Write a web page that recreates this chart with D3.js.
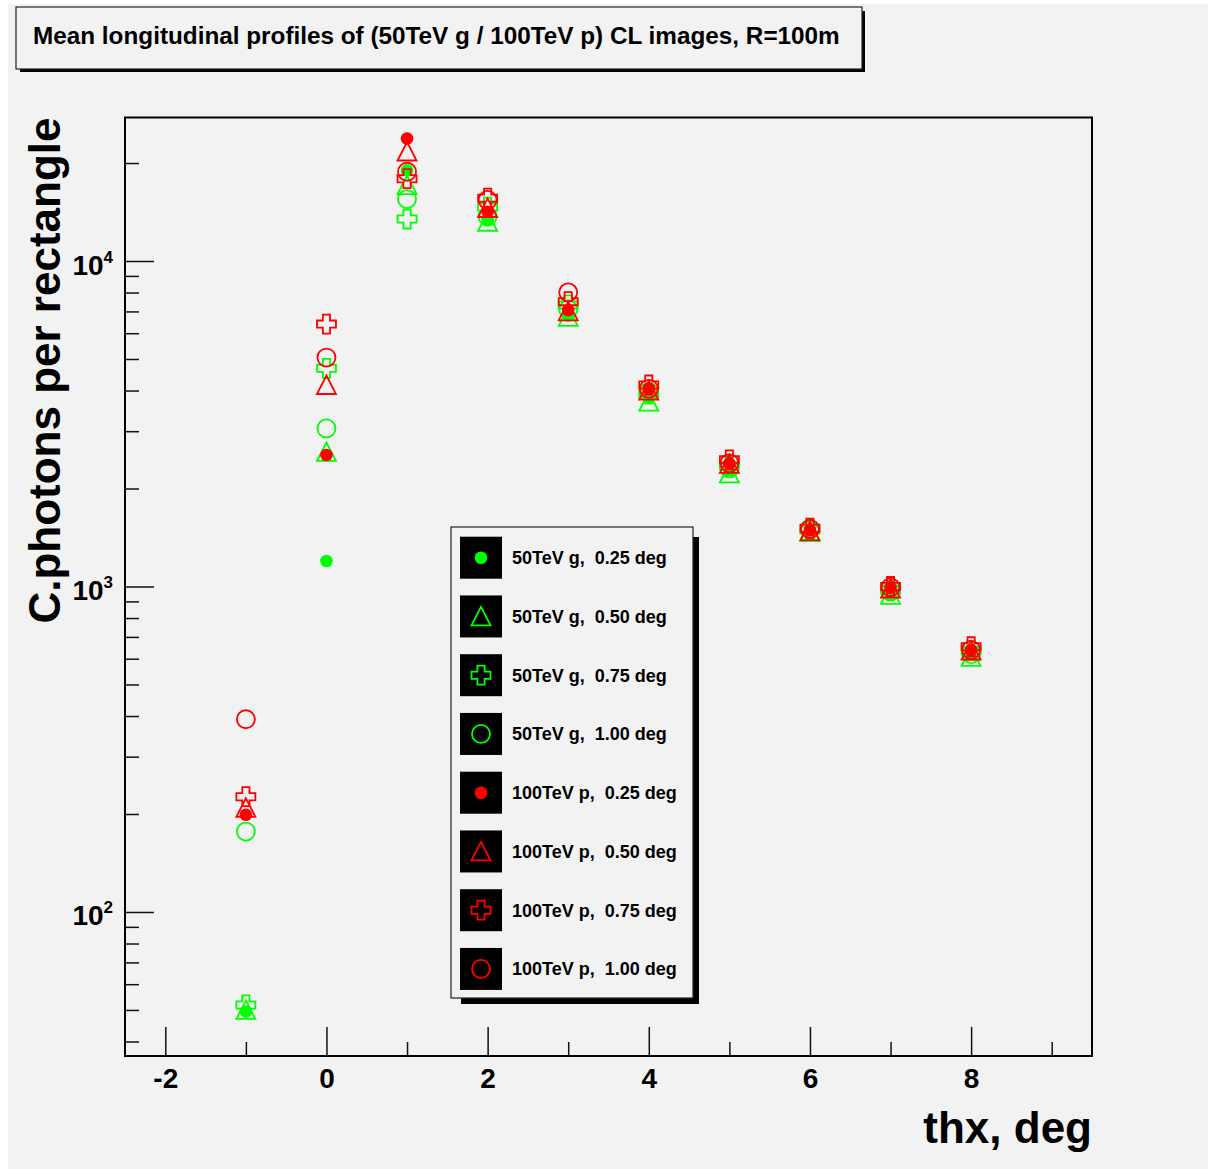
<!DOCTYPE html>
<html>
<head>
<meta charset="utf-8">
<script src="https://cdn.jsdelivr.net/npm/d3@7"></script>
<style>
  body { margin: 0; background: #fff; }
  text { font-family: "Liberation Sans", Arial, Helvetica, sans-serif; font-weight: bold; fill: #000; }
</style>
</head>
<body>
<div id="chart"></div>
<script>
// thx positions of the profile bins (deg)
var thx = [-1, 0, 1, 2, 3, 4, 5, 6, 7, 8];

// mean C.photons per rectangle
var g025 = [49.4, 1197, 19000, 13360, 6800, 3830, 2280, 1490, 958, 620];
var g050 = [50, 2590, 17100, 13200, 6740, 3700, 2225, 1470, 942, 608];
var g075 = [51.8, 4680, 13460, 14650, 7330, 3900, 2350, 1490, 975, 635];
var g100 = [176.6, 3060, 15500, 13700, 7100, 3960, 2305, 1490, 965, 620];
var p025 = [199, 2535, 23800, 14170, 7065, 4065, 2390, 1490, 990, 638];
var p050 = [209, 4160, 21700, 14550, 7000, 4000, 2380, 1480, 985, 635];
var p075 = [226, 6400, 17900, 15600, 7500, 4160, 2450, 1510, 1000, 653];
var p100 = [391, 5050, 18800, 15400, 8010, 4050, 2390, 1504, 994, 638];

var seriesLabels = [
  '50TeV g,  0.25 deg', '50TeV g,  0.50 deg', '50TeV g,  0.75 deg', '50TeV g,  1.00 deg',
  '100TeV p,  0.25 deg', '100TeV p,  0.50 deg', '100TeV p,  0.75 deg', '100TeV p,  1.00 deg'
];
var xMajorTicks = [-2, 0, 2, 4, 6, 8];
var xMinorTicks = [-1, 1, 3, 5, 7, 9];
var yMajorTicks = [100, 1000, 10000];

var titleText = 'Mean longitudinal profiles of (50TeV g / 100TeV p) CL images, R=100m';

var series = [
  {label: seriesLabels[0], values: g025, color: '#00ff00', marker: 'dot'},
  {label: seriesLabels[1], values: g050, color: '#00ff00', marker: 'triangle'},
  {label: seriesLabels[2], values: g075, color: '#00ff00', marker: 'cross'},
  {label: seriesLabels[3], values: g100, color: '#00ff00', marker: 'circle'},
  {label: seriesLabels[4], values: p025, color: '#ff0000', marker: 'dot'},
  {label: seriesLabels[5], values: p050, color: '#ff0000', marker: 'triangle'},
  {label: seriesLabels[6], values: p075, color: '#ff0000', marker: 'cross'},
  {label: seriesLabels[7], values: p100, color: '#ff0000', marker: 'circle'}
];

var W = 1208, H = 1169,
    bg = '#f2f2f2',
    frame = {left: 125, right: 1092, top: 117.5, bottom: 1056};

var svg = d3.select('#chart').append('svg')
  .attr('width', W)
  .attr('height', H);

// canvas
svg.append('rect')
  .attr('x', 8).attr('y', 4)
  .attr('width', W - 8).attr('height', H - 4)
  .attr('fill', bg);

var x = d3.scaleLinear().domain([-2.5, 9.5]).range([frame.left, frame.right]);
var y = d3.scaleLog().domain([36.1, 27600]).range([frame.bottom, frame.top]);

// box with ROOT-like shadow
function shadowBox(bx, by, bw, bh, off, inset) {
  svg.append('path')
    .attr('d', 'M' + (bx + bw) + ',' + (by + inset) +
      'H' + (bx + bw + off) + 'V' + (by + bh + off) +
      'H' + (bx + inset) + 'V' + (by + bh) + 'H' + (bx + bw) + 'Z')
    .attr('fill', '#000');
  svg.append('rect')
    .attr('x', bx).attr('y', by)
    .attr('width', bw).attr('height', bh)
    .attr('fill', bg)
    .attr('stroke', '#222')
    .attr('stroke-width', 1.2);
}

// title
shadowBox(16, 7, 846, 62, 3, 4);
svg.append('text')
  .attr('x', 33).attr('y', 44)
  .attr('font-size', 24.3)
  .text(titleText);

// frame
svg.append('rect')
  .attr('x', frame.left).attr('y', frame.top)
  .attr('width', frame.right - frame.left)
  .attr('height', frame.bottom - frame.top)
  .attr('fill', bg)
  .attr('stroke', '#000')
  .attr('stroke-width', 2);

function styleTicks(g) {
  g.select('.domain').remove();
  g.selectAll('.tick line').attr('stroke', '#111').attr('stroke-width', 1.5);
}

// x axis
var xAxisG = svg.append('g').attr('transform', 'translate(0,' + frame.bottom + ')');
xAxisG.append('g')
  .call(d3.axisBottom(x).tickValues(xMinorTicks).tickSize(-14).tickSizeOuter(0).tickFormat(''))
  .call(styleTicks);
xAxisG.append('g')
  .call(d3.axisBottom(x).tickValues(xMajorTicks).tickSize(-29).tickSizeOuter(0)
    .tickFormat(function (d) { return String(d); }))
  .call(styleTicks)
  .call(function (g) {
    g.selectAll('.tick text')
      .attr('y', 32).attr('dy', null)
      .attr('font-size', 28)
      .attr('font-family', null)
      .attr('fill', '#000');
  });

// y axis
var yMinorTicks = [];
[10, 100, 1000, 10000].forEach(function (dec) {
  [2, 3, 4, 5, 6, 7, 8, 9].forEach(function (m) {
    var v = m * dec;
    if (v >= y.domain()[0] && v <= y.domain()[1]) yMinorTicks.push(v);
  });
});
var yAxisG = svg.append('g').attr('transform', 'translate(' + frame.left + ',0)');
yAxisG.append('g')
  .call(d3.axisLeft(y).tickValues(yMinorTicks).tickSize(-14).tickSizeOuter(0).tickFormat(''))
  .call(styleTicks);
yAxisG.append('g')
  .call(d3.axisLeft(y).tickValues(yMajorTicks).tickSize(-29).tickSizeOuter(0).tickPadding(12)
    .tickFormat(function () { return '10'; }))
  .call(styleTicks)
  .call(function (g) {
    g.selectAll('.tick text')
      .attr('dy', 13)
      .attr('font-size', 28)
      .attr('font-family', null)
      .attr('fill', '#000')
      .append('tspan')
        .attr('dy', -12)
        .attr('font-size', 17)
        .text(function (d) { return Math.round(Math.log10(d)); });
  });

// axis titles
svg.append('text')
  .attr('text-anchor', 'end')
  .attr('x', frame.right).attr('y', 1143)
  .attr('font-size', 44)
  .text('thx, deg');
svg.append('text')
  .attr('text-anchor', 'end')
  .attr('transform', 'translate(60,' + frame.top + ') rotate(-90)')
  .attr('font-size', 44)
  .text('C.photons per rectangle');

// markers
function markerPath(shape) {
  var s = 9.5, a = 3.6;
  if (shape === 'triangle') {
    return 'M0,' + (-s) + 'L' + s + ',' + (s - 0.5) + 'L' + (-s) + ',' + (s - 0.5) + 'Z';
  }
  return 'M' + (-a) + ',' + (-s) + 'H' + a + 'V' + (-a) + 'H' + s + 'V' + a + 'H' + a +
    'V' + s + 'H' + (-a) + 'V' + a + 'H' + (-s) + 'V' + (-a) + 'H' + (-a) + 'Z';
}

function drawMarker(sel, s) {
  if (s.marker === 'dot') {
    sel.append('circle').attr('r', 6.3).attr('fill', s.color);
  } else if (s.marker === 'circle') {
    sel.append('circle').attr('r', 9)
      .attr('fill', 'none').attr('stroke', s.color).attr('stroke-width', 1.8);
  } else {
    sel.append('path').attr('d', markerPath(s.marker))
      .attr('fill', 'none').attr('stroke', s.color).attr('stroke-width', 1.8);
  }
}

var plot = svg.append('g').attr('class', 'points');
series.forEach(function (s) {
  var pts = s.values.map(function (v, i) { return {x: thx[i], y: v}; });
  plot.append('g')
    .selectAll('g')
    .data(pts)
    .join('g')
      .attr('transform', function (d) { return 'translate(' + x(d.x) + ',' + y(d.y) + ')'; })
      .each(function () { drawMarker(d3.select(this), s); });
});

// legend
var leg = {x: 451, y: 527, w: 242, h: 471, rowTop: 536.7, rowStep: 58.75, box: 42};
shadowBox(leg.x, leg.y, leg.w, leg.h, 6, 10);
series.forEach(function (s, i) {
  var top = leg.rowTop + i * leg.rowStep,
      cx = 460 + leg.box / 2,
      cy = top + leg.box / 2;
  svg.append('rect')
    .attr('x', 460).attr('y', top)
    .attr('width', leg.box).attr('height', leg.box)
    .attr('fill', '#000');
  var m = svg.append('g').attr('transform', 'translate(' + cx + ',' + cy + ')');
  drawMarker(m, s);
  svg.append('text')
    .attr('x', 512).attr('y', cy + 6.5)
    .attr('font-size', 18)
    .style('white-space', 'pre')
    .text(s.label);
});
</script>
</body>
</html>
